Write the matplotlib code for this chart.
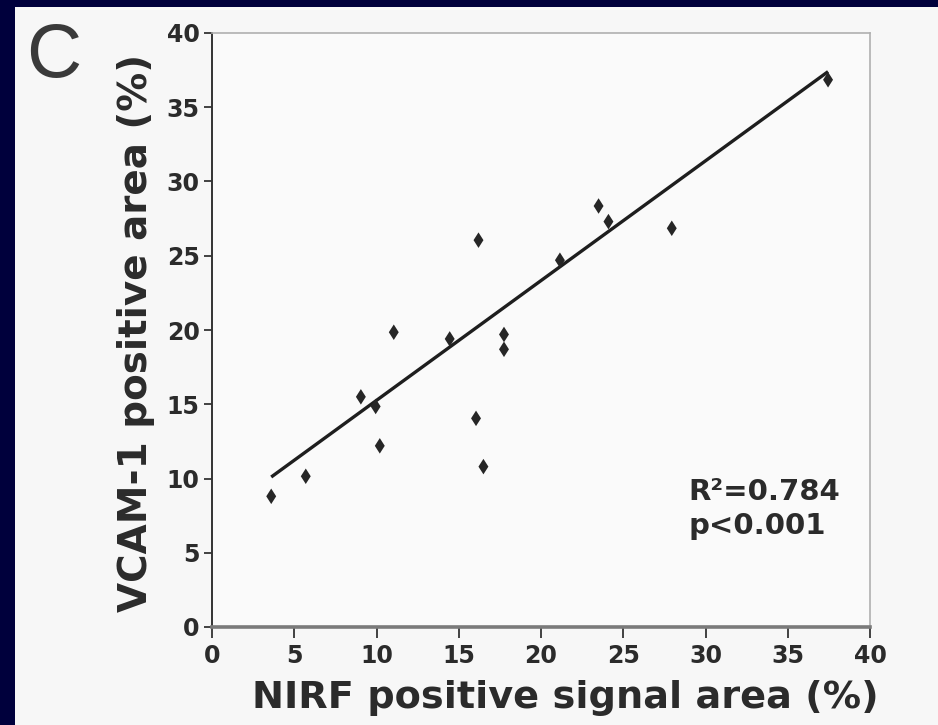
import matplotlib
matplotlib.use("Agg")
import matplotlib.pyplot as plt
from matplotlib.patches import Rectangle
from matplotlib.path import Path

# Data
nirf = [3.6, 5.7, 9.05, 9.95, 10.2, 11.05, 14.45, 16.05, 16.2, 16.5,
        17.75, 17.75, 21.15, 23.5, 24.1, 27.95, 37.45]
vcam = [8.8, 10.15, 15.5, 14.85, 12.2, 19.85, 19.4, 14.05, 26.05, 10.8,
        19.7, 18.7, 24.7, 28.35, 27.3, 26.85, 36.85]
fit_x = [3.6, 37.45]
fit_y = [10.1, 37.4]
xticks = [0, 5, 10, 15, 20, 25, 30, 35, 40]
yticks = [0, 5, 10, 15, 20, 25, 30, 35, 40]
panel_label = "C"
xlabel = "NIRF positive signal area (%)"
ylabel = "VCAM-1 positive area (%)"
stat1 = "R²=0.784"
stat2 = "p<0.001"

W, H = 938, 725
fig = plt.figure(figsize=(W / 100, H / 100), dpi=100)
fig.patch.set_facecolor("#f7f7f7")

# navy frame on top and left edges
fig.patches.append(Rectangle((0, 0), 15 / W, 1, transform=fig.transFigure,
                             facecolor="#00003c", edgecolor="none", zorder=-5))
fig.patches.append(Rectangle((0, 1 - 7 / H), 1, 7 / H, transform=fig.transFigure,
                             facecolor="#00003c", edgecolor="none", zorder=-5))

ax = fig.add_axes([212 / W, (H - 627) / H, (870 - 212) / W, (627 - 33) / H])
ax.set_zorder(2)
ax.set_facecolor("#fafafa")
txt = "#2b2b2b"

ax.plot(fit_x, fit_y, color="#1e1e1e", lw=2.4, solid_capstyle="butt", zorder=3)
diamond = Path([(0, -1.25), (0.8, 0), (0, 1.25), (-0.8, 0), (0, -1.25)],
               [1, 2, 2, 2, 79])
ax.scatter(nirf, vcam, marker=diamond, s=125, color="#262626",
           edgecolors="none", zorder=4)

ax.set_xlim(0, 40)
ax.set_ylim(0, 40)
ax.set_xticks(xticks)
ax.set_yticks(yticks)

font = "DejaVu Sans"
ax.set_xticklabels([str(t) for t in xticks], fontsize=17, fontweight="bold",
                   color=txt, family=font)
ax.set_yticklabels([str(t) for t in yticks], fontsize=17, fontweight="bold",
                   color=txt, family=font)
ax.tick_params(axis="x", direction="out", length=8, width=1.3, color="#333333",
               pad=4)
ax.tick_params(axis="y", direction="out", length=6, width=1.3, color="#333333",
               pad=3)

for side in ("top", "right"):
    ax.spines[side].set_color("#b0b0b0")
    ax.spines[side].set_linewidth(1.2)
ax.spines["left"].set_color("#333333")
ax.spines["left"].set_linewidth(1.4)
ax.spines["bottom"].set_color("#7a7a7a")
ax.spines["bottom"].set_linewidth(2.6)

fig.text(565 / W, 1 - 708 / H, xlabel, ha="center", va="baseline",
         fontsize=27.5, fontweight="bold", color=txt, family=font)
fig.text(136 / W, 1 - 333 / H, ylabel, ha="center", va="center", rotation=90,
         fontsize=28, fontweight="bold", color=txt, family=font)

fig.text(54 / W, 1 - 57 / H, panel_label, ha="center", va="center",
         fontsize=55, color="#3a3a3a", family="Liberation Sans")

fig.text(688 / W, 1 - 500 / H, stat1, ha="left", va="baseline",
         fontsize=21, fontweight="bold", color=txt, family=font)
fig.text(688 / W, 1 - 534 / H, stat2, ha="left", va="baseline",
         fontsize=21, fontweight="bold", color=txt, family=font)

fig.savefig("out.png", dpi=100, facecolor=fig.get_facecolor())
